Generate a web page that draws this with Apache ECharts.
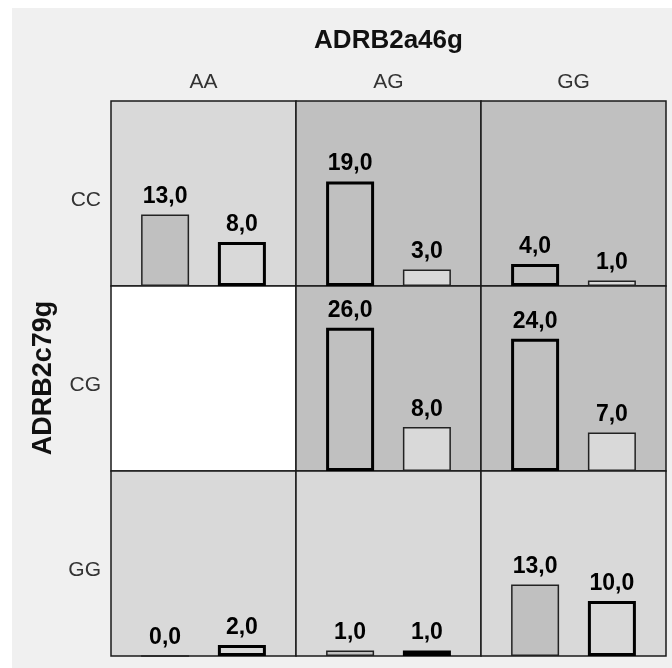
<!DOCTYPE html>
<html>
<head>
<meta charset="utf-8">
<script src="https://cdn.jsdelivr.net/npm/echarts@6/dist/echarts.min.js"></script>
<style>
  html, body { margin: 0; padding: 0; background: #fff; }
  #chart { width: 672px; height: 668px; }
</style>
</head>
<body>
<div id="chart"></div>
<script>
// column variable / row variable
var colTitle = 'ADRB2a46g'
var rowTitle = 'ADRB2c79g'
var colCats = ['AA', 'AG', 'GG']
var rowCats = ['CC', 'CG', 'GG']
// first bar and second bar of each cell, by row (null = empty cell)
var firstBar = [
  [13, 19, 4],
  [null, 26, 24],
  [0, 1, 13]
]
var secondBar = [
  [8, 3, 1],
  [null, 8, 7],
  [2, 1, 10]
]
// cell shading: 'light', 'dark' or 'empty'
var cellShade = [
  ['light', 'dark', 'dark'],
  ['empty', 'dark', 'dark'],
  ['light', 'light', 'light']
]

var DARK = '#c0c0c0'
var LIGHT = '#d9d9d9'
var FONT = 'Liberation Sans, Arial, sans-serif'

var myChart = echarts.init(document.getElementById('chart'))

var x0 = 111
var y0 = 101
var cell = 185
var grids = []
var xAxes = []
var yAxes = []
var series = []
var graphics = [
  {
    type: 'rect',
    z: -10,
    shape: { x: 12, y: 8, width: 660, height: 660 },
    style: { fill: '#f0f0f0' }
  },
  {
    type: 'text',
    x: x0 + cell * 1.5,
    y: 41,
    style: {
      text: colTitle,
      textAlign: 'center',
      textVerticalAlign: 'middle',
      font: 'bold 26px ' + FONT,
      fill: '#111'
    }
  },
  {
    type: 'text',
    x: 44,
    y: 378,
    rotation: Math.PI / 2,
    style: {
      text: rowTitle,
      textAlign: 'center',
      textVerticalAlign: 'middle',
      font: 'bold 27px ' + FONT,
      fill: '#111'
    }
  }
]

function fmt (p) {
  return p.value.toFixed(1).replace('.', ',')
}

rowCats.forEach(function (row, r) {
  // row label, a little below the middle of the row
  graphics.push({
    type: 'text',
    x: x0 - 10,
    y: y0 + r * cell + cell / 2 + 7,
    style: {
      text: row,
      textAlign: 'right',
      textVerticalAlign: 'middle',
      font: '21px ' + FONT,
      fill: '#333'
    }
  })
  colCats.forEach(function (col, c) {
    var i = r * 3 + c
    var shade = cellShade[r][c]
    grids.push({
      left: x0 + c * cell,
      top: y0 + r * cell,
      width: cell,
      height: cell,
      show: true,
      backgroundColor: shade === 'dark' ? DARK : (shade === 'light' ? LIGHT : '#fff'),
      borderColor: '#1a1a1a',
      borderWidth: 1.5
    })
    xAxes.push({
      gridIndex: i,
      type: 'category',
      data: [col],
      position: 'top',
      axisLine: { show: false },
      axisTick: { show: false },
      axisLabel: {
        show: r === 0,
        margin: 8,
        color: '#333',
        fontSize: 21,
        fontFamily: FONT
      }
    })
    yAxes.push({
      gridIndex: i,
      type: 'value',
      min: 0,
      max: 33.6,
      show: false
    })
    if (shade === 'empty') return
    // the bar whose fill matches the cell shade gets the heavy outline
    var heavyFirst = shade === 'dark'
    var pair = [
      { v: firstBar[r][c], fill: DARK, heavy: heavyFirst },
      { v: secondBar[r][c], fill: LIGHT, heavy: !heavyFirst }
    ]
    pair.forEach(function (b) {
      series.push({
        type: 'bar',
        xAxisIndex: i,
        yAxisIndex: i,
        barWidth: 48,
        barGap: '60%',
        data: [b.v],
        itemStyle: {
          color: b.fill,
          borderColor: b.heavy ? '#000' : '#222',
          borderWidth: b.heavy ? 3 : 1.5
        },
        label: {
          show: true,
          position: 'top',
          distance: 6,
          formatter: fmt,
          color: '#000',
          fontSize: 23,
          fontWeight: 'bold',
          fontFamily: FONT
        },
        silent: true
      })
    })
  })
})

var option = {
  animation: false,
  backgroundColor: '#fff',
  graphic: graphics,
  grid: grids,
  xAxis: xAxes,
  yAxis: yAxes,
  series: series
}

myChart.setOption(option)
</script>
</body>
</html>
